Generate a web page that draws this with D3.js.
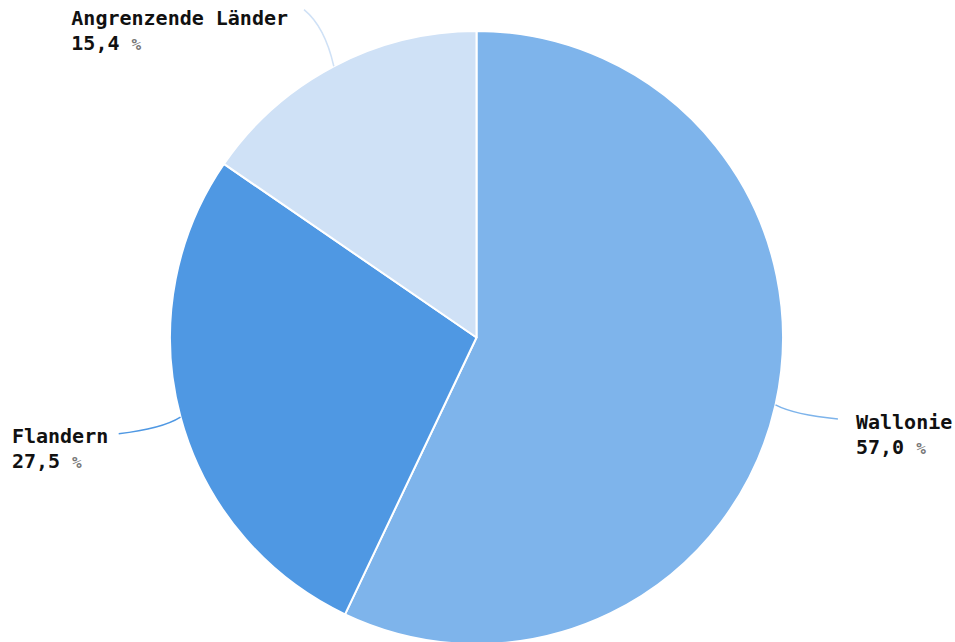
<!DOCTYPE html>
<html>
<head>
<meta charset="utf-8">
<script src="https://cdn.jsdelivr.net/npm/d3@7"></script>
<style>
  html, body { margin: 0; padding: 0; background: #ffffff; }
  svg { display: block; }
  .lbl { font-family: "DejaVu Sans Mono", monospace; font-weight: bold; font-size: 20px; fill: #111; }
  .pct { font-weight: bold; font-size: 16px; fill: #777; }
</style>
</head>
<body>
<svg id="chart" width="955" height="642"></svg>
<script>
// Anteile nach Herkunft
const categories = ["Wallonie", "Flandern", "Angrenzende Länder"];
const shares = [57.0, 27.5, 15.4];
const sliceColors = ["#7eb4eb", "#4f98e3", "#cfe1f6"];

const W = 955, H = 642;
const cx = 476.5, cy = 337.5, R = 306.5;

const svg = d3.select("#chart");
const g = svg.append("g").attr("transform", `translate(${cx},${cy})`);

const data = categories.map((c, i) => ({ name: c, value: shares[i], color: sliceColors[i] }));

const pie = d3.pie().sort(null).value(d => d.value);
const arcs = pie(data);
const arc = d3.arc().innerRadius(0).outerRadius(R);

g.selectAll("path.slice")
  .data(arcs)
  .join("path")
  .attr("class", "slice")
  .attr("d", arc)
  .attr("fill", d => d.data.color)
  .attr("stroke", "#ffffff")
  .attr("stroke-width", 2)
  .attr("stroke-linejoin", "round");

// Beschriftung mit Verbindungslinien
const polar = (a, r) => [Math.sin(a) * r, -Math.cos(a) * r];
const fmt = v => d3.format(".1f")(v).replace(".", ",");
const charW = 12.04;

arcs.forEach(d => {
  const mid = (d.startAngle + d.endAngle) / 2;
  const p0 = polar(mid, R);
  const p1 = polar(mid, R + 64);
  const corner = [p0[0], p1[1]];
  const half = [(p0[0] + p1[0]) / 2, (p0[1] + p1[1]) / 2];
  const ctrl = [(corner[0] * 0.4 + half[0] * 0.6), (corner[1] * 0.4 + half[1] * 0.6)];
  g.append("path")
    .attr("d", `M${p0[0]},${p0[1]}Q${ctrl[0]},${ctrl[1]} ${p1[0]},${p1[1]}`)
    .attr("fill", "none")
    .attr("stroke", d.data.color)
    .attr("stroke-width", 1.5);

  const right = Math.sin(mid) > 0;
  const top = -Math.cos(mid) < -0.6;
  const textW = d.data.name.length * charW;
  let tx, ty;
  if (right) {
    tx = p1[0] + 18; ty = p1[1] + 10;
  } else if (top) {
    tx = p1[0] - 16 - textW; ty = p1[1] + 15;
  } else {
    tx = p1[0] - 10.5 - textW; ty = p1[1] + 9;
  }
  const t = g.append("text").attr("class", "lbl").attr("x", tx).attr("y", ty);
  t.append("tspan").attr("x", tx).text(d.data.name);
  t.append("tspan").attr("x", tx).attr("dy", 25).text(fmt(d.data.value) + " ");
  t.append("tspan").attr("class", "pct").text("%");
});
</script>
</body>
</html>
